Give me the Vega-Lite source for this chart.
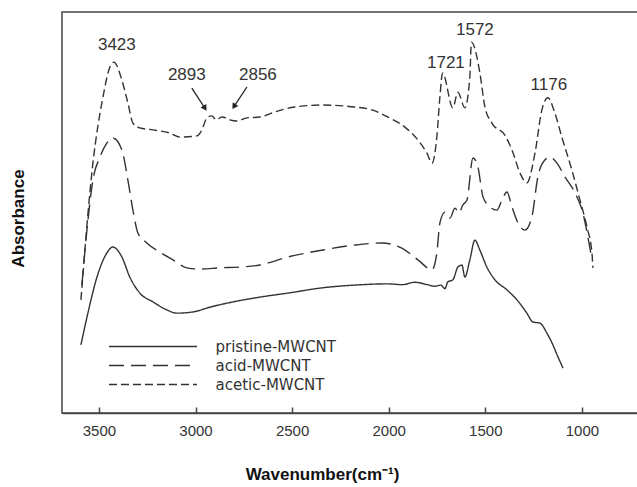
{
  "$schema": "https://vega.github.io/schema/vega-lite/v6.json",
  "autosize": "none",
  "width": 580,
  "height": 401,
  "padding": {"left": 62, "top": 12, "right": 0, "bottom": 74},
  "background": "white",
  "config": {
    "view": {"stroke": "#444", "strokeWidth": 1.5},
    "font": "Liberation Sans"
  },
  "datasets": {
    "spectra": [
      {"wn": 3593, "a": 17.0, "sample": "pristine-MWCNT"},
      {"wn": 3557, "a": 24.9, "sample": "pristine-MWCNT"},
      {"wn": 3510, "a": 33.9, "sample": "pristine-MWCNT"},
      {"wn": 3459, "a": 39.9, "sample": "pristine-MWCNT"},
      {"wn": 3428, "a": 41.4, "sample": "pristine-MWCNT"},
      {"wn": 3381, "a": 38.9, "sample": "pristine-MWCNT"},
      {"wn": 3340, "a": 33.9, "sample": "pristine-MWCNT"},
      {"wn": 3288, "a": 29.9, "sample": "pristine-MWCNT"},
      {"wn": 3220, "a": 27.7, "sample": "pristine-MWCNT"},
      {"wn": 3148, "a": 25.7, "sample": "pristine-MWCNT"},
      {"wn": 3096, "a": 24.9, "sample": "pristine-MWCNT"},
      {"wn": 3013, "a": 25.2, "sample": "pristine-MWCNT"},
      {"wn": 2925, "a": 26.4, "sample": "pristine-MWCNT"},
      {"wn": 2806, "a": 27.7, "sample": "pristine-MWCNT"},
      {"wn": 2667, "a": 28.9, "sample": "pristine-MWCNT"},
      {"wn": 2522, "a": 29.9, "sample": "pristine-MWCNT"},
      {"wn": 2346, "a": 31.2, "sample": "pristine-MWCNT"},
      {"wn": 2175, "a": 31.9, "sample": "pristine-MWCNT"},
      {"wn": 2004, "a": 32.2, "sample": "pristine-MWCNT"},
      {"wn": 1930, "a": 32.0, "sample": "pristine-MWCNT"},
      {"wn": 1864, "a": 32.6, "sample": "pristine-MWCNT"},
      {"wn": 1800, "a": 32.0, "sample": "pristine-MWCNT"},
      {"wn": 1761, "a": 31.6, "sample": "pristine-MWCNT"},
      {"wn": 1730, "a": 31.9, "sample": "pristine-MWCNT"},
      {"wn": 1709, "a": 31.0, "sample": "pristine-MWCNT"},
      {"wn": 1694, "a": 32.7, "sample": "pristine-MWCNT"},
      {"wn": 1668, "a": 33.2, "sample": "pristine-MWCNT"},
      {"wn": 1642, "a": 36.4, "sample": "pristine-MWCNT"},
      {"wn": 1621, "a": 36.9, "sample": "pristine-MWCNT"},
      {"wn": 1606, "a": 33.9, "sample": "pristine-MWCNT"},
      {"wn": 1580, "a": 38.2, "sample": "pristine-MWCNT"},
      {"wn": 1554, "a": 43.1, "sample": "pristine-MWCNT"},
      {"wn": 1528, "a": 40.6, "sample": "pristine-MWCNT"},
      {"wn": 1492, "a": 36.4, "sample": "pristine-MWCNT"},
      {"wn": 1450, "a": 33.2, "sample": "pristine-MWCNT"},
      {"wn": 1388, "a": 30.7, "sample": "pristine-MWCNT"},
      {"wn": 1336, "a": 28.2, "sample": "pristine-MWCNT"},
      {"wn": 1285, "a": 24.9, "sample": "pristine-MWCNT"},
      {"wn": 1254, "a": 22.7, "sample": "pristine-MWCNT"},
      {"wn": 1217, "a": 22.4, "sample": "pristine-MWCNT"},
      {"wn": 1181, "a": 19.9, "sample": "pristine-MWCNT"},
      {"wn": 1155, "a": 17.5, "sample": "pristine-MWCNT"},
      {"wn": 1124, "a": 14.0, "sample": "pristine-MWCNT"},
      {"wn": 1098, "a": 11.2, "sample": "pristine-MWCNT"},

      {"wn": 3588, "a": 31.9, "sample": "acid-MWCNT"},
      {"wn": 3562, "a": 45.6, "sample": "acid-MWCNT"},
      {"wn": 3531, "a": 58.1, "sample": "acid-MWCNT"},
      {"wn": 3495, "a": 63.8, "sample": "acid-MWCNT"},
      {"wn": 3459, "a": 67.3, "sample": "acid-MWCNT"},
      {"wn": 3428, "a": 68.6, "sample": "acid-MWCNT"},
      {"wn": 3381, "a": 65.6, "sample": "acid-MWCNT"},
      {"wn": 3350, "a": 58.1, "sample": "acid-MWCNT"},
      {"wn": 3324, "a": 50.6, "sample": "acid-MWCNT"},
      {"wn": 3298, "a": 44.9, "sample": "acid-MWCNT"},
      {"wn": 3252, "a": 42.4, "sample": "acid-MWCNT"},
      {"wn": 3184, "a": 40.1, "sample": "acid-MWCNT"},
      {"wn": 3117, "a": 38.2, "sample": "acid-MWCNT"},
      {"wn": 3045, "a": 36.2, "sample": "acid-MWCNT"},
      {"wn": 2977, "a": 35.9, "sample": "acid-MWCNT"},
      {"wn": 2874, "a": 36.2, "sample": "acid-MWCNT"},
      {"wn": 2770, "a": 36.4, "sample": "acid-MWCNT"},
      {"wn": 2667, "a": 36.9, "sample": "acid-MWCNT"},
      {"wn": 2522, "a": 38.9, "sample": "acid-MWCNT"},
      {"wn": 2346, "a": 40.6, "sample": "acid-MWCNT"},
      {"wn": 2175, "a": 41.9, "sample": "acid-MWCNT"},
      {"wn": 2035, "a": 42.4, "sample": "acid-MWCNT"},
      {"wn": 1932, "a": 41.1, "sample": "acid-MWCNT"},
      {"wn": 1849, "a": 38.2, "sample": "acid-MWCNT"},
      {"wn": 1776, "a": 35.7, "sample": "acid-MWCNT"},
      {"wn": 1751, "a": 39.9, "sample": "acid-MWCNT"},
      {"wn": 1735, "a": 47.4, "sample": "acid-MWCNT"},
      {"wn": 1709, "a": 50.1, "sample": "acid-MWCNT"},
      {"wn": 1683, "a": 48.6, "sample": "acid-MWCNT"},
      {"wn": 1657, "a": 51.1, "sample": "acid-MWCNT"},
      {"wn": 1636, "a": 49.9, "sample": "acid-MWCNT"},
      {"wn": 1616, "a": 51.9, "sample": "acid-MWCNT"},
      {"wn": 1595, "a": 53.1, "sample": "acid-MWCNT"},
      {"wn": 1564, "a": 63.6, "sample": "acid-MWCNT"},
      {"wn": 1538, "a": 61.3, "sample": "acid-MWCNT"},
      {"wn": 1512, "a": 53.9, "sample": "acid-MWCNT"},
      {"wn": 1476, "a": 51.4, "sample": "acid-MWCNT"},
      {"wn": 1440, "a": 50.6, "sample": "acid-MWCNT"},
      {"wn": 1414, "a": 53.1, "sample": "acid-MWCNT"},
      {"wn": 1388, "a": 55.1, "sample": "acid-MWCNT"},
      {"wn": 1362, "a": 51.4, "sample": "acid-MWCNT"},
      {"wn": 1331, "a": 47.4, "sample": "acid-MWCNT"},
      {"wn": 1295, "a": 45.6, "sample": "acid-MWCNT"},
      {"wn": 1259, "a": 48.9, "sample": "acid-MWCNT"},
      {"wn": 1228, "a": 58.9, "sample": "acid-MWCNT"},
      {"wn": 1192, "a": 63.1, "sample": "acid-MWCNT"},
      {"wn": 1166, "a": 63.8, "sample": "acid-MWCNT"},
      {"wn": 1129, "a": 62.3, "sample": "acid-MWCNT"},
      {"wn": 1088, "a": 58.9, "sample": "acid-MWCNT"},
      {"wn": 1036, "a": 54.9, "sample": "acid-MWCNT"},
      {"wn": 995, "a": 49.9, "sample": "acid-MWCNT"},
      {"wn": 969, "a": 43.9, "sample": "acid-MWCNT"},
      {"wn": 948, "a": 38.2, "sample": "acid-MWCNT"},

      {"wn": 3593, "a": 28.2, "sample": "acetic-MWCNT"},
      {"wn": 3531, "a": 62.3, "sample": "acetic-MWCNT"},
      {"wn": 3479, "a": 78.8, "sample": "acetic-MWCNT"},
      {"wn": 3443, "a": 86.3, "sample": "acetic-MWCNT"},
      {"wn": 3423, "a": 87.5, "sample": "acetic-MWCNT"},
      {"wn": 3381, "a": 83.0, "sample": "acetic-MWCNT"},
      {"wn": 3350, "a": 77.3, "sample": "acetic-MWCNT"},
      {"wn": 3324, "a": 72.3, "sample": "acetic-MWCNT"},
      {"wn": 3288, "a": 71.1, "sample": "acetic-MWCNT"},
      {"wn": 3220, "a": 70.6, "sample": "acetic-MWCNT"},
      {"wn": 3133, "a": 69.8, "sample": "acetic-MWCNT"},
      {"wn": 3081, "a": 68.8, "sample": "acetic-MWCNT"},
      {"wn": 2993, "a": 69.1, "sample": "acetic-MWCNT"},
      {"wn": 2967, "a": 70.6, "sample": "acetic-MWCNT"},
      {"wn": 2941, "a": 73.6, "sample": "acetic-MWCNT"},
      {"wn": 2915, "a": 74.1, "sample": "acetic-MWCNT"},
      {"wn": 2894, "a": 73.1, "sample": "acetic-MWCNT"},
      {"wn": 2863, "a": 73.8, "sample": "acetic-MWCNT"},
      {"wn": 2843, "a": 73.6, "sample": "acetic-MWCNT"},
      {"wn": 2822, "a": 73.1, "sample": "acetic-MWCNT"},
      {"wn": 2786, "a": 72.8, "sample": "acetic-MWCNT"},
      {"wn": 2734, "a": 73.6, "sample": "acetic-MWCNT"},
      {"wn": 2667, "a": 73.8, "sample": "acetic-MWCNT"},
      {"wn": 2589, "a": 75.1, "sample": "acetic-MWCNT"},
      {"wn": 2486, "a": 76.3, "sample": "acetic-MWCNT"},
      {"wn": 2346, "a": 76.8, "sample": "acetic-MWCNT"},
      {"wn": 2175, "a": 76.3, "sample": "acetic-MWCNT"},
      {"wn": 2087, "a": 75.6, "sample": "acetic-MWCNT"},
      {"wn": 2004, "a": 73.8, "sample": "acetic-MWCNT"},
      {"wn": 1916, "a": 71.3, "sample": "acetic-MWCNT"},
      {"wn": 1849, "a": 68.1, "sample": "acetic-MWCNT"},
      {"wn": 1802, "a": 64.8, "sample": "acetic-MWCNT"},
      {"wn": 1776, "a": 62.3, "sample": "acetic-MWCNT"},
      {"wn": 1751, "a": 68.8, "sample": "acetic-MWCNT"},
      {"wn": 1735, "a": 78.8, "sample": "acetic-MWCNT"},
      {"wn": 1721, "a": 84.8, "sample": "acetic-MWCNT"},
      {"wn": 1668, "a": 76.1, "sample": "acetic-MWCNT"},
      {"wn": 1642, "a": 80.0, "sample": "acetic-MWCNT"},
      {"wn": 1606, "a": 76.1, "sample": "acetic-MWCNT"},
      {"wn": 1580, "a": 83.8, "sample": "acetic-MWCNT"},
      {"wn": 1572, "a": 92.5, "sample": "acetic-MWCNT"},
      {"wn": 1528, "a": 84.8, "sample": "acetic-MWCNT"},
      {"wn": 1502, "a": 76.3, "sample": "acetic-MWCNT"},
      {"wn": 1466, "a": 72.3, "sample": "acetic-MWCNT"},
      {"wn": 1399, "a": 69.3, "sample": "acetic-MWCNT"},
      {"wn": 1362, "a": 65.6, "sample": "acetic-MWCNT"},
      {"wn": 1321, "a": 59.9, "sample": "acetic-MWCNT"},
      {"wn": 1285, "a": 57.4, "sample": "acetic-MWCNT"},
      {"wn": 1243, "a": 64.8, "sample": "acetic-MWCNT"},
      {"wn": 1207, "a": 75.6, "sample": "acetic-MWCNT"},
      {"wn": 1176, "a": 78.6, "sample": "acetic-MWCNT"},
      {"wn": 1140, "a": 74.8, "sample": "acetic-MWCNT"},
      {"wn": 1104, "a": 68.8, "sample": "acetic-MWCNT"},
      {"wn": 1052, "a": 60.6, "sample": "acetic-MWCNT"},
      {"wn": 1010, "a": 53.1, "sample": "acetic-MWCNT"},
      {"wn": 974, "a": 46.4, "sample": "acetic-MWCNT"},
      {"wn": 948, "a": 39.9, "sample": "acetic-MWCNT"},
      {"wn": 943, "a": 36.2, "sample": "acetic-MWCNT"}
    ],
    "peaks": [
      {"wn": 3407, "a": 91.8, "label": "3423"},
      {"wn": 3045, "a": 84.3, "label": "2893"},
      {"wn": 2677, "a": 84.3, "label": "2856"},
      {"wn": 1704, "a": 87.3, "label": "1721"},
      {"wn": 1554, "a": 95.5, "label": "1572"},
      {"wn": 1171, "a": 81.8, "label": "1176"}
    ],
    "arrows": [
      {"wn": 3019, "a": 81.0, "wn2": 2951, "a2": 76.0},
      {"wn": 2734, "a": 81.3, "wn2": 2801, "a2": 76.4}
    ]
  },
  "layer": [
    {
      "data": {"name": "spectra"},
      "mark": {"type": "line", "color": "#333", "strokeWidth": 1.4, "interpolate": "monotone"},
      "encoding": {
        "x": {
          "field": "wn", "type": "quantitative",
          "scale": {"domain": [3691, 689], "nice": false, "zero": false},
          "axis": {
            "values": [3500, 3000, 2500, 2000, 1500, 1000],
            "format": "d",
            "title": "Wavenumber(cm\u207b\u00b9)",
            "grid": false,
            "domainColor": "#444", "domainWidth": 1.5,
            "tickColor": "#444", "tickSize": -6, "tickWidth": 1.5,
            "labelFont": "Liberation Sans", "labelFontSize": 15, "labelColor": "#333",
            "labelPadding": 16,
            "titleFont": "Liberation Sans", "titleFontSize": 17, "titleFontWeight": "bold", "titleColor": "#111",
            "titleX": 260, "titleY": 66, "titleAlign": "center", "titleBaseline": "alphabetic", "titleAnchor": null
          }
        },
        "y": {
          "field": "a", "type": "quantitative",
          "scale": {"domain": [0, 100], "nice": false, "zero": false},
          "axis": {
            "title": "Absorbance",
            "labels": false, "ticks": false, "domain": false, "grid": false,
            "titleFont": "Liberation Sans", "titleFontSize": 17, "titleFontWeight": "bold", "titleColor": "#111",
            "titleAngle": -90, "titleX": -44, "titleY": 206, "titleAlign": "center", "titleBaseline": "middle"
          }
        },
        "strokeDash": {
          "field": "sample", "type": "nominal",
          "scale": {
            "domain": ["pristine-MWCNT", "acid-MWCNT", "acetic-MWCNT"],
            "range": [[1, 0], [15, 7], [8, 4]]
          },
          "legend": {
            "title": null,
            "orient": "none",
            "legendX": 45,
            "legendY": 327,
            "padding": 0,
            "symbolType": "M-8,0H8",
            "symbolSize": 121,
            "symbolOffset": 38.5,
            "symbolStrokeColor": "#333",
            "symbolStrokeWidth": 1.6,
            "labelOffset": 55,
            "labelFont": "DejaVu Sans",
            "labelFontSize": 15,
            "labelColor": "#333",
            "rowPadding": 3
          }
        }
      }
    },
    {
      "data": {"name": "peaks"},
      "mark": {"type": "text", "font": "Liberation Sans", "fontSize": 17, "color": "#333", "baseline": "middle", "align": "center"},
      "encoding": {
        "x": {"field": "wn", "type": "quantitative"},
        "y": {"field": "a", "type": "quantitative"},
        "text": {"field": "label"}
      }
    },
    {
      "data": {"name": "arrows"},
      "mark": {"type": "rule", "color": "#222", "strokeWidth": 1.3},
      "encoding": {
        "x": {"field": "wn", "type": "quantitative"},
        "y": {"field": "a", "type": "quantitative"},
        "x2": {"field": "wn2"},
        "y2": {"field": "a2"}
      }
    },
    {
      "data": {"values": [{"wn": 2951, "a": 76.0}]},
      "mark": {"type": "point", "shape": "triangle-down", "filled": true, "color": "#222", "size": 45, "angle": 328, "opacity": 1},
      "encoding": {
        "x": {"field": "wn", "type": "quantitative"},
        "y": {"field": "a", "type": "quantitative"}
      }
    },
    {
      "data": {"values": [{"wn": 2801, "a": 76.4}]},
      "mark": {"type": "point", "shape": "triangle-down", "filled": true, "color": "#222", "size": 45, "angle": 33, "opacity": 1},
      "encoding": {
        "x": {"field": "wn", "type": "quantitative"},
        "y": {"field": "a", "type": "quantitative"}
      }
    }
  ]
}
